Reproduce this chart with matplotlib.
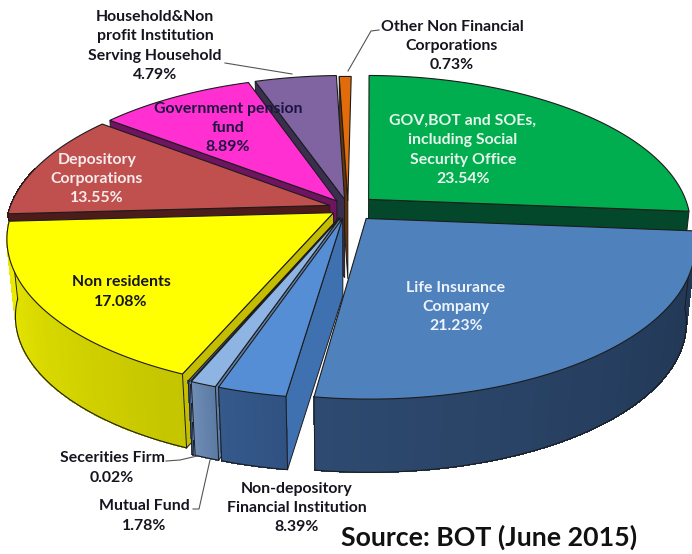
import numpy as np
import matplotlib
matplotlib.use("Agg")
import matplotlib.pyplot as plt
from matplotlib.colors import to_rgb

# clockwise from 12 o'clock
names = ["Green", "Life", "NonDep", "Mutual", "Secs", "NonRes", "Depos", "Govt", "House", "Other"]
# size of each slice as actually drawn (% of the circle,
# the printed percentages in the labels below don't quite match the drawn angles)
drawn_share = [26.1, 26.0, 2.9, 1.1, 0.1, 17.7, 11.4, 9.2, 4.8, 0.7]
printed_pct = ["23.54%", "21.23%", "8.39%", "1.78%", "0.02%", "17.08%", "13.55%", "8.89%", "4.79%", "0.73%"]

label_names = ["GOV,BOT and SOEs,\nincluding Social\nSecurity Office", "Life Insurance\nCompany",
               "Non-depository\nFinancial Institution", "Mutual Fund", "Secerities Firm", "Non residents",
               "Depository\nCorporations", "Government pension\nfund",
               "Household&Non\nprofit Institution\nServing Household", "Other Non Financial\nCorporations"]
label_x = [463, 456, 297, 144, 112, 121, 97, 228, 155, 452]
label_y = [150, 307, 508, 516, 468, 292, 179, 128, 46, 46]
label_col = ["#e8f5ec", "#eef3fa", "#15151f", "#15151f", "#15151f", "#15151f", "#f6ecec", "#1d1540", "#15151f", "#15151f"]

top_col = ["#00ae50", "#4f81bd", "#558ed5", "#8eb4e3", "#5a7aa5", "#ffff00", "#c0504d", "#ff2fd2", "#8064a2", "#e36c0a"]
cut_col = ["#03482a", "#253f60", "#3f70b0", "#5f7fa8", "#3c5a85", "#c4bd00", "#4d1c1a", "#6e1460", "#3a2f50", "#6b3405"]
wall_a = ["#03482a", "#1f3450", "#2f5282", "#5a7aa3", "#3c5a85", "#c4c400", "#4d1c1a", "#6e1460", "#3a2f50", "#6b3405"]
wall_b = ["#03482a", "#2e4a70", "#36598c", "#6e8cb4", "#3c5a85", "#ecec00", "#4d1c1a", "#6e1460", "#3a2f50", "#6b3405"]
explode = [0.088, 0.09, 0.07, 0.07, 0.07, 0.055, 0.06, 0.06, 0.06, 0.05]
draw_order = [9, 8, 7, 6, 0, 5, 4, 3, 2, 1]

start_angle = 0.7
cx, cy, rx, ry, persp = 348, 208, 320, 147, 0.165
depth, shrink = 78, 0.975
edge = "#1c1c1c"


def project(u, v, low=False):
    d = 1 - persp * v
    s = shrink if low else 1.0
    return cx + s * rx * u / d, cy + (depth if low else 0) + s * ry * v / d


def rim(a, b, th, low=False):
    return project(a + np.sin(th), b - np.cos(th), low)


fig = plt.figure(figsize=(6.92, 5.54), dpi=100)
ax = fig.add_axes([0, 0, 1, 1])
ax.set_xlim(0, 692)
ax.set_ylim(554, 0)
ax.axis("off")

edges = np.radians(np.cumsum([0] + drawn_share) * 3.6 + start_angle)

for i in draw_order:
    t1, t2 = edges[i], edges[i + 1]
    mid = (t1 + t2) / 2
    a, b = explode[i] * np.sin(mid), -explode[i] * np.cos(mid)
    apex_top = project(a, b)
    apex_low = project(a, b, True)

    # cut faces, only the ones turned towards us
    for th in (t1, t2):
        if (th == t1 and th > np.pi) or (th == t2 and th < np.pi):
            rt = rim(a, b, th)
            rb = rim(a, b, th, True)
            ax.fill([apex_top[0], rt[0], rb[0], apex_low[0]], [apex_top[1], rt[1], rb[1], apex_low[1]],
                    fc=cut_col[i], ec=edge, lw=0.7, zorder=2)

    # outer wall, small quads for the gradient
    w1, w2 = max(t1, np.radians(75)), min(t2, np.radians(285))
    if w2 > w1 and t2 > np.radians(100):
        steps = np.linspace(w1, w2, 70)
        ca, cb = np.array(to_rgb(wall_a[i])), np.array(to_rgb(wall_b[i]))
        for j in range(len(steps) - 1):
            p1 = rim(a, b, steps[j])
            p2 = rim(a, b, steps[j + 1])
            q2 = rim(a, b, steps[j + 1], True)
            q1 = rim(a, b, steps[j], True)
            c = ca + (cb - ca) * j / (len(steps) - 2)
            ax.fill([p1[0], p2[0], q2[0], q1[0]], [p1[1], p2[1], q2[1], q1[1]], fc=c, ec=c, lw=0.5,
                    antialiased=False, zorder=2)
        bx, by = rim(a, b, steps, True)
        ax.plot(bx, by, color=edge, lw=0.8, zorder=2)
        if t1 >= np.radians(75):
            top0 = rim(a, b, steps[0])
            ax.plot([bx[0], top0[0]], [by[0], top0[1]], color=edge, lw=0.7, zorder=2)
        if t2 <= np.radians(285):
            top1 = rim(a, b, steps[-1])
            ax.plot([bx[-1], top1[0]], [by[-1], top1[1]], color=edge, lw=0.7, zorder=2)

    # top face
    th = np.linspace(t1, t2, 80)
    xs, ys = rim(a, b, th)
    ax.fill(np.r_[apex_top[0], xs], np.r_[apex_top[1], ys], fc=top_col[i], ec=edge, lw=0.8, zorder=2)

for i in range(len(names)):
    ax.text(label_x[i], label_y[i], label_names[i] + "\n" + printed_pct[i], ha="center", va="center",
            color=label_col[i], fontsize=11.4, fontweight="bold", family="Lato", linespacing=1.48, zorder=5)

# leader lines
ax.plot([225, 292], [63, 74], color="#555555", lw=0.8, zorder=4)
ax.plot([379, 371, 348], [30, 31, 71], color="#555555", lw=0.8, zorder=4)
ax.plot([166, 180, 197], [461, 460, 456], color="#555555", lw=0.8, zorder=4)
ax.plot([193, 199, 210], [509, 509, 460], color="#555555", lw=0.8, zorder=4)

ax.text(489, 537, "Source: BOT (June 2015)", ha="center", va="center", color="#111111",
        fontsize=19.3, fontweight="bold", family="Lato", zorder=5)

fig.savefig("out.png", dpi=100)
